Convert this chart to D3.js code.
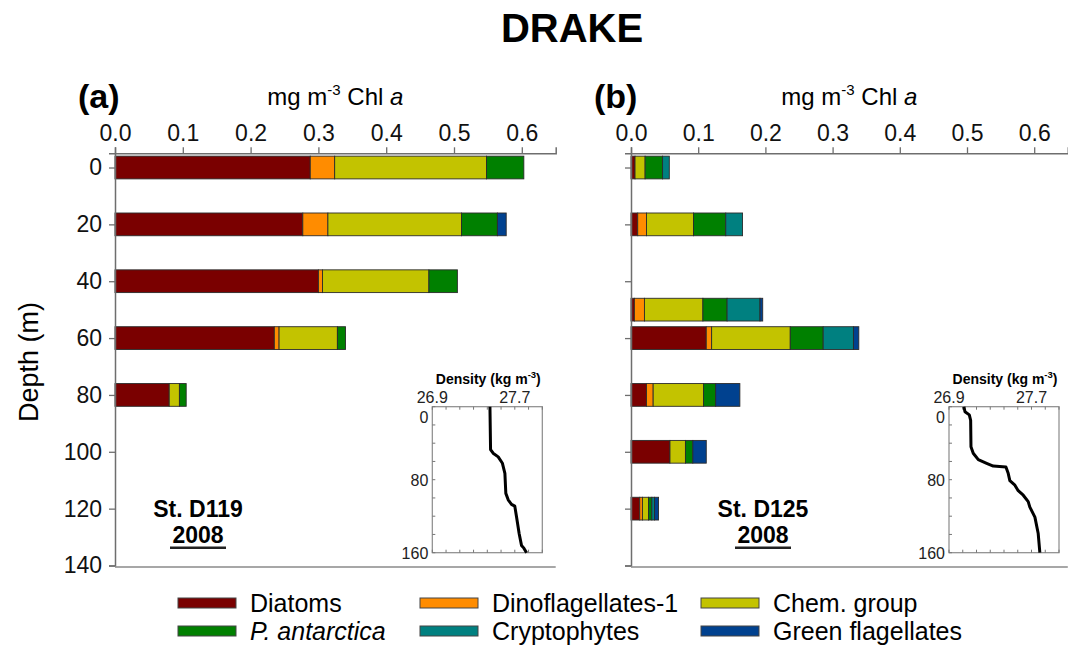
<!DOCTYPE html>
<html>
<head>
<meta charset="utf-8">
<script src="https://cdn.jsdelivr.net/npm/d3@7"></script>
<style>
  html, body { margin: 0; padding: 0; background: #fff; }
  svg { display: block; font-family: "Liberation Sans", Arial, sans-serif; }
</style>
</head>
<body>
<div id="chart"></div>
<script>
// pigment groups (legend order = stacking order)
const groups = ['Diatoms', 'Dinoflagellates-1', 'Chem. group', 'P. antarctica', 'Cryptophytes', 'Green flagellates'];
const groupColors = ['#7a0000', '#ff8c00', '#c3c300', '#008000', '#008080', '#00418f'];

// St. D119 (panel a), mg m-3 Chl a
const depthsA = [0, 20, 40, 60, 80];
const diatomsA = [0.288, 0.277, 0.300, 0.235, 0.080];
const dinoA = [0.036, 0.037, 0.006, 0.007, 0.000];
const chemA = [0.224, 0.197, 0.157, 0.086, 0.015];
const pantA = [0.055, 0.053, 0.042, 0.012, 0.010];
const cryptoA = [0, 0, 0, 0, 0];
const greenA = [0, 0.013, 0, 0, 0];

// St. D125 (panel b)
const depthsB = [0, 20, 50, 60, 80, 100, 120];
const diatomsB = [0.006, 0.010, 0.005, 0.112, 0.023, 0.058, 0.013];
const dinoB = [0.000, 0.013, 0.015, 0.008, 0.010, 0.000, 0.004];
const chemB = [0.015, 0.070, 0.087, 0.117, 0.075, 0.023, 0.009];
const pantB = [0.026, 0.048, 0.036, 0.049, 0.018, 0.011, 0.005];
const cryptoB = [0.010, 0.025, 0.049, 0.045, 0.000, 0.000, 0.004];
const greenB = [0.000, 0.000, 0.004, 0.008, 0.036, 0.020, 0.006];

// density profiles for the insets (kg m-3 vs depth m)
const profDepthA = [0, 47, 51, 55, 62, 73, 95, 102, 107, 109, 121, 139, 152, 155, 160];
const profDensA = [27.459, 27.465, 27.49, 27.539, 27.58, 27.604, 27.613, 27.636, 27.668, 27.70, 27.717, 27.742, 27.765, 27.788, 27.814];
const profDepthB = [0, 5.5, 9, 15, 44, 51, 58, 62, 65, 66, 73, 81, 86, 92, 97, 104, 110, 121, 139, 160];
const profDensB = [27.045, 27.055, 27.097, 27.11, 27.113, 27.135, 27.184, 27.265, 27.329, 27.452, 27.474, 27.49, 27.539, 27.571, 27.62, 27.668, 27.684, 27.733, 27.765, 27.781];

const xTicks = [0, 0.1, 0.2, 0.3, 0.4, 0.5, 0.6];
const depthTicks = [0, 20, 40, 60, 80, 100, 120, 140];

const W = 1068, H = 646;
const svg = d3.select('#chart').append('svg').attr('width', W).attr('height', H);
const axisColor = '#6e6e6e';

svg.append('text').attr('x', 572).attr('y', 42).attr('text-anchor', 'middle')
  .attr('font-size', 40).attr('font-weight', 'bold').text('DRAKE');

const y = d3.scaleLinear().domain([-5, 140]).range([153.3, 565.5]);

function panel(opt) {
  const g = svg.append('g');
  const x = d3.scaleLinear().domain([0, 0.65]).range([opt.x0, opt.x0 + 0.65 * opt.pxPerUnit]);

  // stacked bars
  const rows = opt.depths.map((d, i) => {
    const r = { depth: d };
    groups.forEach((k, j) => { r[k] = opt.series[j][i]; });
    return r;
  });
  const stacked = d3.stack().keys(groups)(rows);
  const barH = y(4) - y(-4);
  stacked.forEach((layer, j) => {
    g.selectAll(null).data(layer.filter(s => s[1] - s[0] > 0)).join('rect')
      .attr('x', s => x(s[0]))
      .attr('width', s => x(s[1]) - x(s[0]))
      .attr('y', s => y(s.data.depth) - barH / 2)
      .attr('height', barH)
      .attr('fill', groupColors[j])
      .attr('stroke', '#2b2b2b').attr('stroke-width', 0.9);
  });

  // top axis
  const ax = g.append('g').attr('transform', `translate(0,${y(-5)})`)
    .call(d3.axisTop(x).tickValues(xTicks).tickFormat(d3.format('.1f')).tickSizeOuter(0).tickSize(6).tickPadding(6));
  ax.select('.domain').attr('stroke', axisColor).attr('stroke-width', 1.5);
  ax.selectAll('.tick line').attr('stroke', axisColor).attr('stroke-width', 1.3);
  ax.selectAll('.tick text').attr('font-size', 23).attr('fill', '#111').attr('font-family', 'Liberation Sans, Arial, sans-serif');

  // left axis
  const ay = g.append('g').attr('transform', `translate(${opt.x0},0)`)
    .call(d3.axisLeft(y).tickValues(depthTicks).tickSizeOuter(0).tickSize(6).tickPadding(7)
      .tickFormat(opt.labels ? d3.format('d') : ''));
  ay.select('.domain').attr('stroke', axisColor).attr('stroke-width', 1.5);
  ay.selectAll('.tick line').attr('stroke', axisColor).attr('stroke-width', 1.3);
  ay.selectAll('.tick text').attr('font-size', 23).attr('fill', '#111').attr('font-family', 'Liberation Sans, Arial, sans-serif');

  // panel letter + axis title
  g.append('text').attr('x', opt.x0 - 37).attr('y', 108).attr('font-size', 34).attr('font-weight', 'bold').text(opt.letter);
  const t = g.append('text').attr('x', opt.x0 + 0.325 * opt.pxPerUnit).attr('y', 105)
    .attr('text-anchor', 'middle').attr('font-size', 24);
  t.append('tspan').text('mg m');
  t.append('tspan').attr('font-size', 15).attr('dy', -10).text('-3');
  t.append('tspan').attr('dy', 10).text(' Chl ');
  t.append('tspan').attr('font-style', 'italic').text('a');

  // station label
  g.append('text').attr('x', opt.stX).attr('y', 517).attr('text-anchor', 'middle')
    .attr('font-size', 23).attr('font-weight', 'bold').text(opt.station);
  g.append('text').attr('x', opt.stX).attr('y', 543).attr('text-anchor', 'middle')
    .attr('font-size', 23).attr('font-weight', 'bold').text('2008');
  g.append('rect').attr('x', opt.stX - 28).attr('y', 546.5).attr('width', 56).attr('height', 2.5).attr('fill', '#222');

  // density inset
  const ix = d3.scaleLinear().domain([26.9, 26.9 + 8 * 0.8 / 6]).range([opt.insetX, opt.insetX + 110]);
  const iy = d3.scaleLinear().domain([0, 160]).range([406.7, 552.7]);
  const ig = g.append('g');
  ig.append('rect').attr('x', ix.range()[0]).attr('y', iy.range()[0])
    .attr('width', 110).attr('height', iy.range()[1] - iy.range()[0])
    .attr('fill', 'none').attr('stroke', '#8a8a8a').attr('stroke-width', 1.2);
  const dTicks = d3.range(0, 9).map(i => 26.9 + i * 0.8 / 6);
  ig.selectAll(null).data(dTicks).join('line')
    .attr('x1', d => ix(d)).attr('x2', d => ix(d))
    .attr('y1', iy(0)).attr('y2', iy(0) + 3).attr('stroke', '#777');
  ig.selectAll(null).data(dTicks).join('line')
    .attr('x1', d => ix(d)).attr('x2', d => ix(d))
    .attr('y1', iy(160)).attr('y2', iy(160) - 3).attr('stroke', '#777');
  ig.selectAll(null).data(d3.range(0, 161, 20)).join('line')
    .attr('x1', ix.range()[0]).attr('x2', ix.range()[0] + 3)
    .attr('y1', d => iy(d)).attr('y2', d => iy(d)).attr('stroke', '#777');
  ig.selectAll(null).data([26.9, 27.7]).join('text')
    .attr('x', d => ix(d)).attr('y', 403).attr('text-anchor', 'middle')
    .attr('font-size', 16).attr('fill', '#222').text(d => d.toFixed(1));
  ig.selectAll(null).data([0, 80, 160]).join('text')
    .attr('x', ix.range()[0] - 4).attr('y', d => iy(d) + (d === 0 ? 16 : 6)).attr('text-anchor', 'end')
    .attr('font-size', 16).attr('fill', '#222').text(d => d);
  const it = ig.append('text').attr('x', ix.range()[0] + 56).attr('y', 384).attr('text-anchor', 'middle')
    .attr('font-size', 14).attr('font-weight', 'bold');
  it.append('tspan').text('Density (kg m');
  it.append('tspan').attr('font-size', 9.5).attr('dy', -6).text('-3');
  it.append('tspan').attr('dy', 6).text(')');
  const line = d3.line().x(d => ix(d[0])).y(d => iy(d[1]));
  ig.append('path').datum(opt.profDens.map((v, i) => [v, opt.profDepth[i]]))
    .attr('d', line).attr('fill', 'none').attr('stroke', '#000').attr('stroke-width', 3)
    .attr('stroke-linejoin', 'round');

  // bottom frame line
  g.append('line').attr('x1', opt.x0).attr('x2', x(0.65)).attr('y1', 567).attr('y2', 567)
    .attr('stroke', '#8a8a8a').attr('stroke-width', 1.5);
}

panel({
  x0: 115, pxPerUnit: 678, letter: '(a)', labels: true,
  depths: depthsA, series: [diatomsA, dinoA, chemA, pantA, cryptoA, greenA],
  station: 'St. D119', stX: 198, insetX: 432.3,
  profDepth: profDepthA, profDens: profDensA
});
panel({
  x0: 631, pxPerUnit: 672, letter: '(b)', labels: false,
  depths: depthsB, series: [diatomsB, dinoB, chemB, pantB, cryptoB, greenB],
  station: 'St. D125', stX: 763, insetX: 949,
  profDepth: profDepthB, profDens: profDensB
});

svg.append('text').attr('transform', 'translate(38,362) rotate(-90)')
  .attr('text-anchor', 'middle').attr('font-size', 27).text('Depth (m)');

// legend
const legCols = [178, 420, 701];
const legRows = [603, 631];
const leg = svg.append('g');
groups.forEach((name, i) => {
  const cx = legCols[i % 3], cy = legRows[Math.floor(i / 3)];
  leg.append('rect').attr('x', cx).attr('y', cy - 5).attr('width', 58).attr('height', 10)
    .attr('fill', groupColors[i]).attr('stroke', '#444').attr('stroke-width', 1);
  leg.append('text').attr('x', cx + 72).attr('y', cy + 9).attr('font-size', 25)
    .attr('font-style', name === 'P. antarctica' ? 'italic' : null).text(name);
});
</script>
</body>
</html>
